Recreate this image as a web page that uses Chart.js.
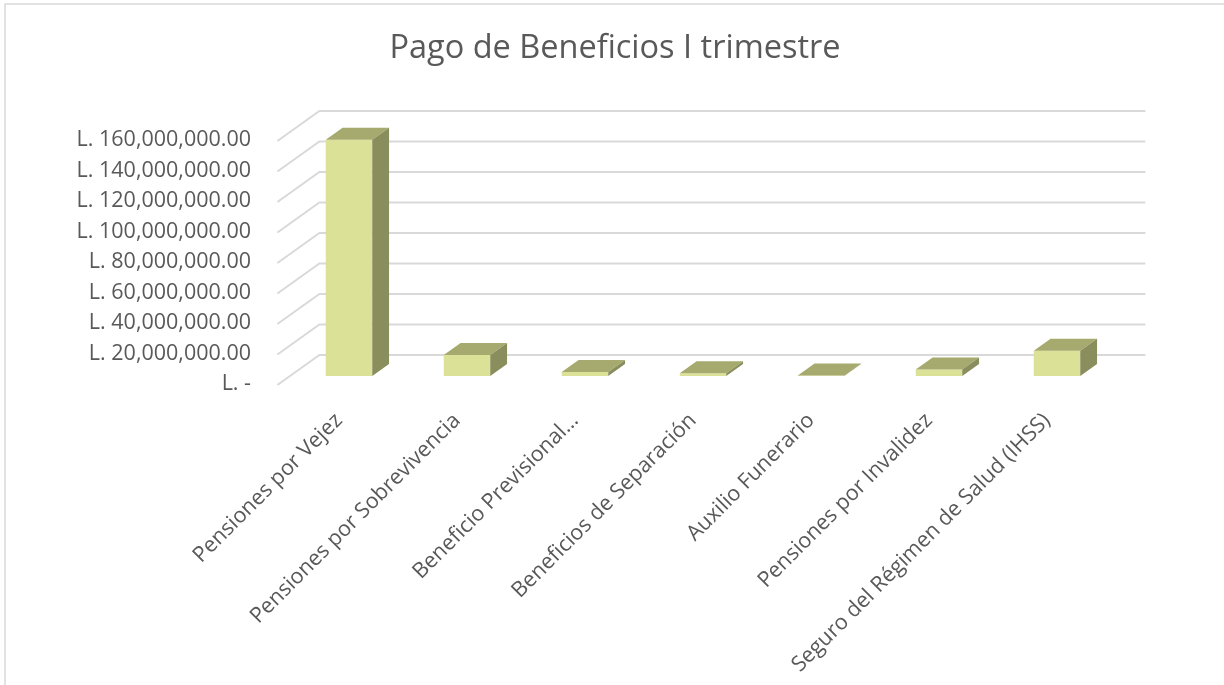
<!DOCTYPE html>
<html>
<head>
<meta charset="utf-8">
<title>Pago de Beneficios I trimestre</title>
<script src="https://cdn.jsdelivr.net/npm/chart.js@4.4.1/dist/chart.umd.min.js"></script>
<style>
  html, body { margin: 0; padding: 0; background: #fff; }
  #wrap { position: relative; width: 1224px; height: 685px; }
</style>
</head>
<body>
<div id="wrap"><canvas id="chart" width="1224" height="685"></canvas></div>
<script>
  "use strict";

  // ---- data ---------------------------------------------------------------
  var title = "Pago de Beneficios I trimestre";
  var categories = [
    "Pensiones por Vejez",
    "Pensiones por Sobrevivencia",
    "Beneficio Previsional…",
    "Beneficios de Separación",
    "Auxilio Funerario",
    "Pensiones por Invalidez",
    "Seguro del Régimen de Salud (IHSS)"
  ];
  var pagos = [155000000, 13800000, 2700000, 1800000, 400000, 4300000, 16600000];
  var yTicks = [0, 20000000, 40000000, 60000000, 80000000, 100000000, 120000000, 140000000, 160000000];

  // ---- look ---------------------------------------------------------------
  var TEXT = "#595959";
  var GRID = "#D9D9D9";
  var FRONT = "#DBE196";
  var TOP = "#A6AA6E";
  var SIDE = "#8A8E5C";
  var FONT = "'Open Sans', 'Noto Sans', sans-serif";

  // depth of the 3d box: bar plane -> back wall, bar plane -> front edge, bar depth
  var BACK = { dx: 29.4, dy: -21 };
  var FRONT_EDGE = { dx: -12.6, dy: 9 };
  var BAR_DEPTH = { dx: 16.8, dy: -12 };

  function money(v) {
    if (v === 0) return "L. -";
    return "L. " + Number(v).toLocaleString("en-US", { minimumFractionDigits: 2, maximumFractionDigits: 2 });
  }

  function poly(ctx, pts, color) {
    ctx.beginPath();
    ctx.moveTo(pts[0][0], pts[0][1]);
    for (var i = 1; i < pts.length; i++) ctx.lineTo(pts[i][0], pts[i][1]);
    ctx.closePath();
    ctx.fillStyle = color;
    ctx.fill();
  }

  // ---- frame, title, walls, gridlines and box faces ---------------------------
  var box3d = {
    id: "box3d",
    beforeDraw: function (chart) {
      var ctx = chart.ctx;
      ctx.save();
      ctx.strokeStyle = GRID;
      ctx.lineWidth = 1.5;
      ctx.beginPath();
      ctx.moveTo(5, 685);
      ctx.lineTo(5, 4);
      ctx.lineTo(1224, 4);
      ctx.stroke();

      ctx.fillStyle = TEXT;
      ctx.font = "32.5px " + FONT;
      ctx.textAlign = "center";
      ctx.textBaseline = "middle";
      ctx.fillText(title, 615, 49);
      ctx.restore();
    },
    beforeDatasetsDraw: function (chart) {
      var ctx = chart.ctx;
      var area = chart.chartArea;
      var y = chart.scales.y;
      ctx.save();
      ctx.strokeStyle = GRID;
      ctx.lineWidth = 2;
      yTicks.forEach(function (v) {
        var py = y.getPixelForValue(v);
        ctx.beginPath();
        ctx.moveTo(area.left + FRONT_EDGE.dx, py + FRONT_EDGE.dy);
        ctx.lineTo(area.left + BACK.dx, py + BACK.dy);
        ctx.lineTo(area.right + BACK.dx, py + BACK.dy);
        ctx.stroke();
      });
      ctx.restore();
    },
    afterDatasetsDraw: function (chart) {
      var ctx = chart.ctx;
      var meta = chart.getDatasetMeta(0);
      ctx.save();
      meta.data.forEach(function (bar) {
        var p = bar.getProps(["x", "y", "base", "width"], true);
        var l = p.x - p.width / 2, r = p.x + p.width / 2;
        var t = Math.min(p.y, p.base), b = Math.max(p.y, p.base);
        var dx = BAR_DEPTH.dx, dy = BAR_DEPTH.dy;
        poly(ctx, [[l, t], [l + dx, t + dy], [r + dx, t + dy], [r, t]], TOP);
        poly(ctx, [[r, t], [r + dx, t + dy], [r + dx, b + dy], [r, b]], SIDE);
      });
      ctx.restore();
    }
  };

  // ---- chart ----------------------------------------------------------------
  new Chart(document.getElementById("chart"), {
    type: "bar",
    data: {
      labels: categories,
      datasets: [{
        label: "Pago",
        data: pagos,
        backgroundColor: FRONT,
        borderWidth: 0,
        barPercentage: 0.394,
        categoryPercentage: 1
      }]
    },
    options: {
      responsive: false,
      animation: false,
      devicePixelRatio: 1,
      layout: { padding: { left: 0, right: 108, top: 132, bottom: 0 } },
      plugins: {
        legend: { display: false },
        tooltip: { enabled: false },
        title: { display: false }
      },
      scales: {
        x: {
          grid: { display: false, drawTicks: false },
          border: { display: false },
          ticks: {
            color: TEXT,
            font: { family: FONT, size: 21.5 },
            minRotation: 45,
            maxRotation: 45,
            autoSkip: false,
            padding: 32,
            labelOffset: -10
          },
          afterFit: function (s) { s.height = 309; }
        },
        y: {
          min: 0,
          max: 160000000,
          grid: { display: false, drawTicks: false },
          border: { display: false },
          afterBuildTicks: function (s) {
            s.ticks = yTicks.map(function (v) { return { value: v }; });
          },
          ticks: {
            color: TEXT,
            font: { family: FONT, size: 21.5 },
            padding: 39,
            labelOffset: 8,
            callback: function (v) { return money(v); }
          },
          afterFit: function (s) { s.width = 290; }
        }
      }
    },
    plugins: [box3d]
  });
</script>
</body>
</html>
